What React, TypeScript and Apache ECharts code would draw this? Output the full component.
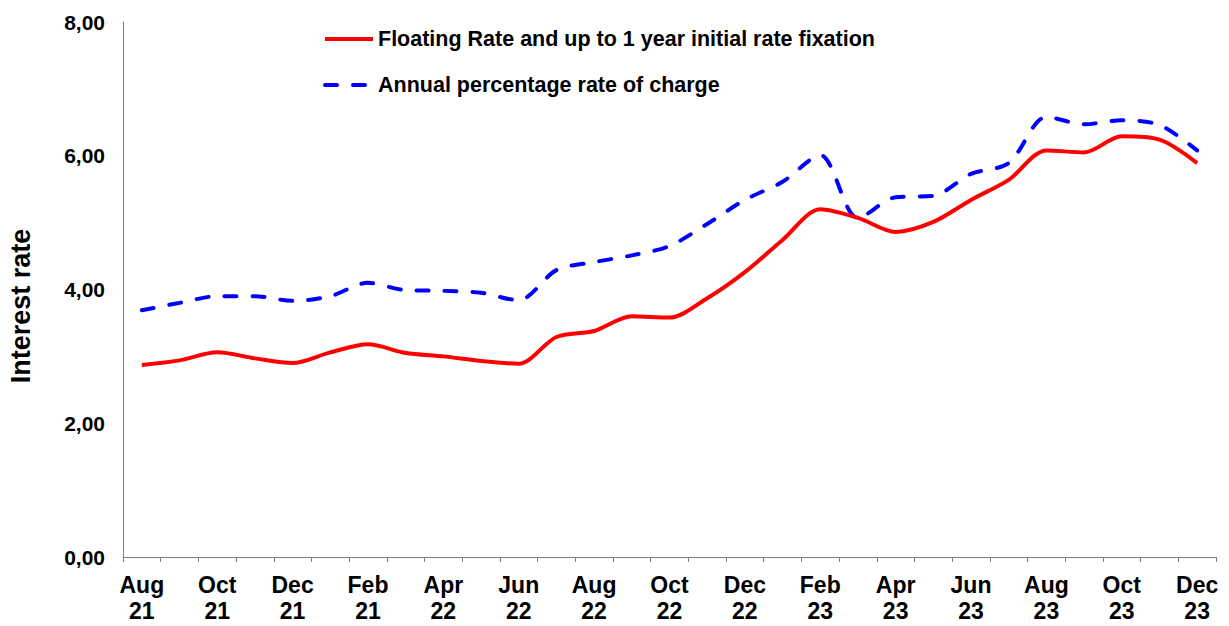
import React, { useEffect, useRef } from "react";
import * as echarts from "echarts";

const categories = [
  "Aug\n21", "Sep\n21", "Oct\n21", "Nov\n21", "Dec\n21", "Jan\n22", "Feb\n21", "Mar\n22",
  "Apr\n22", "May\n22", "Jun\n22", "Jul\n22", "Aug\n22", "Sep\n22", "Oct\n22", "Nov\n22",
  "Dec\n22", "Jan\n23", "Feb\n23", "Mar\n23", "Apr\n23", "May\n23", "Jun\n23", "Jul\n23",
  "Aug\n23", "Sep\n23", "Oct\n23", "Nov\n23", "Dec\n23",
];

const floatingRate = [
  2.87, 2.94, 3.06, 2.97, 2.9, 3.06, 3.18, 3.05, 3.0, 2.93, 2.89, 3.29, 3.38, 3.6, 3.58, 3.87,
  4.26, 4.74, 5.2, 5.07, 4.86, 5.01, 5.34, 5.64, 6.08, 6.05, 6.29, 6.24, 5.89,
];

const aprc = [
  3.69, 3.8, 3.9, 3.9, 3.83, 3.9, 4.1, 3.99, 3.98, 3.95, 3.84, 4.29, 4.41, 4.51, 4.65, 4.98,
  5.34, 5.61, 6.01, 5.07, 5.38, 5.4, 5.73, 5.89, 6.58, 6.47, 6.53, 6.46, 6.08,
];

const seriesNames = [
  "Floating Rate and up to 1 year initial rate fixation",
  "Annual percentage rate of charge",
];

export default function App() {
  const ref = useRef<HTMLDivElement>(null);
  useEffect(() => {
    if (!ref.current) return;
    const chart = echarts.init(ref.current, null, { renderer: "svg" });
    const font = "Arial, 'Liberation Sans', sans-serif";
    chart.setOption({
      animation: false,
      backgroundColor: "#ffffff",
      textStyle: { fontFamily: font },
      grid: { left: 123, right: 13, top: 22, bottom: 69, containLabel: false, outerBoundsMode: "none" },
      legend: {
        orient: "vertical",
        left: 318,
        top: 23,
        itemWidth: 48,
        itemHeight: 14,
        itemGap: 24,
        itemStyle: { opacity: 0 },
        lineStyle: { width: 4 },
        textStyle: { fontFamily: font, fontSize: 21.5, fontWeight: "bold", color: "#000", padding: [0, 0, 0, 0] },
        data: seriesNames,
      },
      xAxis: {
        type: "category",
        data: categories,
        boundaryGap: true,
        axisLine: { show: true, lineStyle: { color: "#808080", width: 1 } },
        axisTick: { show: true, interval: 0, length: 5, lineStyle: { color: "#808080" } },
        axisLabel: {
          interval: 1,
          fontFamily: font,
          fontSize: 23,
          fontWeight: "bold",
          color: "#000",
          lineHeight: 26,
          margin: 15,
        },
        splitLine: { show: false },
      },
      yAxis: {
        type: "value",
        min: 0,
        max: 8,
        interval: 2,
        name: "Interest rate",
        nameLocation: "middle",
        nameGap: 89,
        nameTextStyle: { fontFamily: font, fontSize: 27, fontWeight: "bold", color: "#000", padding: [0, 0, 0, -33] },
        axisLine: { show: true, lineStyle: { color: "#808080", width: 1 } },
        axisTick: { show: false },
        splitLine: { show: false },
        axisLabel: {
          fontFamily: font,
          fontSize: 21,
          fontWeight: "bold",
          color: "#000",
          margin: 18,
          formatter: (v: number) => v.toFixed(2).replace(".", ","),
        },
      },
      series: [
        {
          name: seriesNames[0],
          type: "line",
          data: floatingRate,
          smooth: 0.3,
          symbol: "none",
          lineStyle: { color: "#ff0000", width: 4 },
          itemStyle: { color: "#ff0000" },
          z: 3,
        },
        {
          name: seriesNames[1],
          type: "line",
          data: aprc,
          smooth: 0.3,
          symbol: "none",
          lineStyle: { color: "#0000ff", width: 4, type: [12, 16], cap: "round" },
          itemStyle: { color: "#0000ff" },
          z: 2,
        },
      ],
    });
    return () => chart.dispose();
  }, []);
  return (
    <div
      ref={ref}
      style={{ position: "absolute", left: 0, top: 0, width: 1229, height: 626 }}
    />
  );
}
